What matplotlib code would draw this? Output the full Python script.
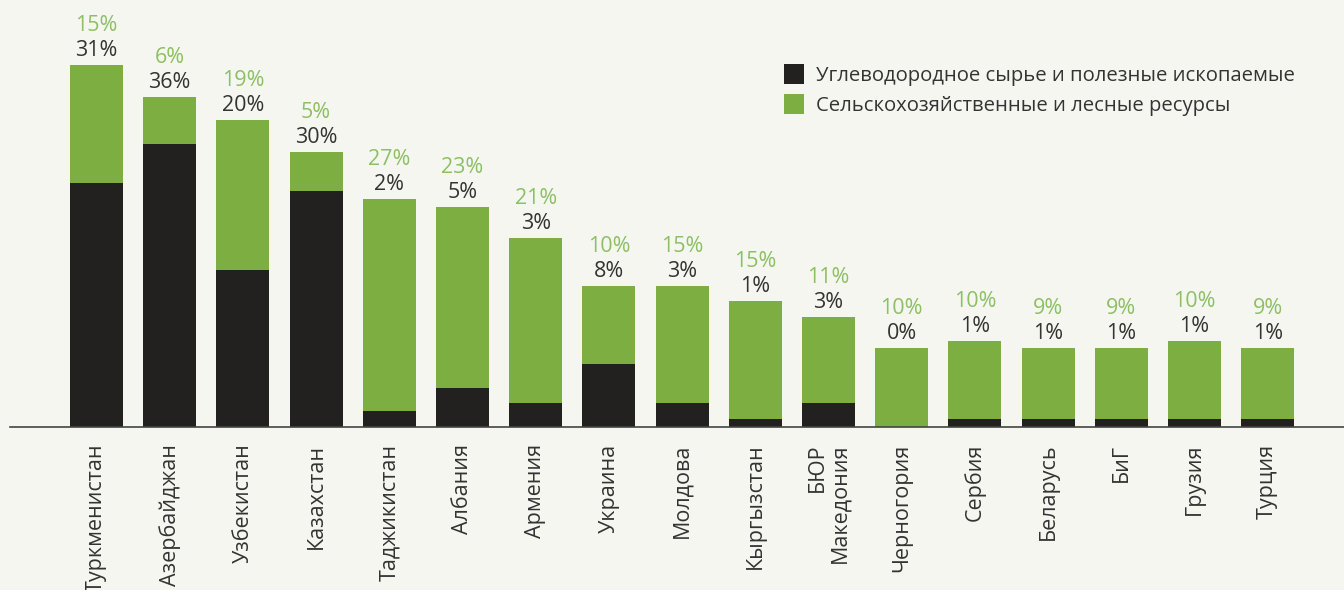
import matplotlib.pyplot as plt
import numpy as np

plt.rcParams['font.family'] = ['Open Sans', 'DejaVu Sans']

countries = ["Туркменистан", "Азербайджан", "Узбекистан", "Казахстан", "Таджикистан",
             "Албания", "Армения", "Украина", "Молдова", "Кыргызстан", "БЮР\nМакедония",
             "Черногория", "Сербия", "Беларусь", "БиГ", "Грузия", "Турция"]
hydrocarbons = [31, 36, 20, 30, 2, 5, 3, 8, 3, 1, 3, 0, 1, 1, 1, 1, 1]
agriculture = [15, 6, 19, 5, 27, 23, 21, 10, 15, 15, 11, 10, 10, 9, 9, 10, 9]
legend_labels = ["Углеводородное сырье и полезные ископаемые",
                 "Сельскохозяйственные и лесные ресурсы"]

bg = "#f6f6f1"
c_black = "#222120"
c_green = "#7cae41"
c_green_txt = "#8cc063"
c_txt = "#333333"

W, H = 1344, 590
fig = plt.figure(figsize=(W / 100, H / 100), dpi=100, facecolor=bg)

base_px = 427
px_per = 7.86
ax = fig.add_axes([0, (H - base_px) / H, 1, base_px / H])
ax.set_facecolor(bg)

step = 73.2
x0 = 96.5
x = np.arange(len(countries))
ax.set_xlim(-x0 / step, (W - x0) / step)
ax.set_ylim(0, base_px / px_per)

hc = np.array(hydrocarbons)
ag = np.array(agriculture)
ax.bar(x, hc, width=0.724, color=c_black, label=legend_labels[0])
ax.bar(x, ag, width=0.724, bottom=hc, color=c_green, label=legend_labels[1])

for i in range(len(countries)):
    top = hc[i] + ag[i]
    ax.annotate(f"{hc[i]}%", (x[i], top), xytext=(0, 9), textcoords="offset pixels",
                ha="center", va="baseline", fontsize=15.5, color=c_txt)
    ax.annotate(f"{ag[i]}%", (x[i], top), xytext=(0, 34), textcoords="offset pixels",
                ha="center", va="baseline", fontsize=15.5, color=c_green_txt)

for s in ["top", "right", "left"]:
    ax.spines[s].set_visible(False)
ax.spines["bottom"].set_color("#444444")
ax.spines["bottom"].set_linewidth(1.2)
ax.spines["bottom"].set_bounds(-(x0 - 10) / step, (W - x0) / step)

ax.set_yticks([])
ax.set_xticks(x)
ax.set_xticklabels(countries, rotation=90, fontsize=15.5, color=c_txt,
                   va="top", ha="center", multialignment="right", linespacing=1.05)
ax.tick_params(axis="x", length=0, pad=12)

leg = ax.legend(loc="upper left", bbox_to_anchor=(776 / W, 1 - 56 / base_px),
                frameon=False, fontsize=14.6, handlelength=1.0, handleheight=1.15,
                handletextpad=0.55, labelspacing=0.38, borderaxespad=0)
for t in leg.get_texts():
    t.set_color(c_txt)

fig.savefig("out.png", dpi=100, facecolor=bg)
